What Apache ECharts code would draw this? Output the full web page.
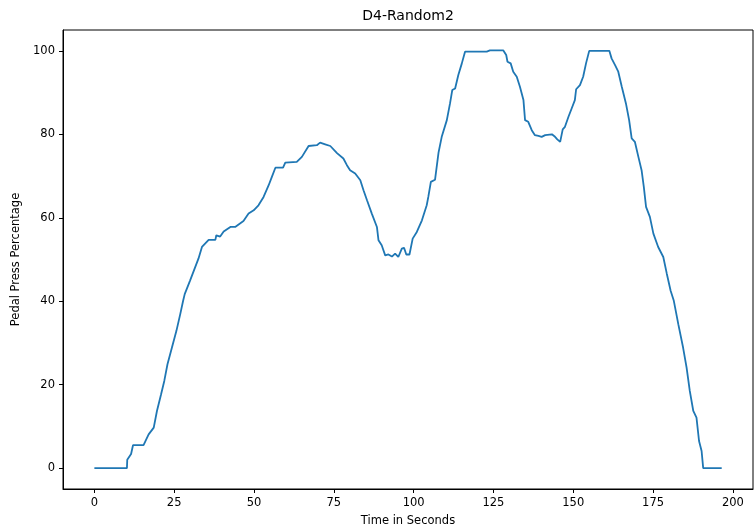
<!DOCTYPE html>
<html>
<head>
<meta charset="utf-8">
<script src="https://cdn.jsdelivr.net/npm/echarts@6/dist/echarts.min.js"></script>
<style>
html,body{margin:0;padding:0;background:#fff;}
#chart{width:755px;height:528px;}
</style>
</head>
<body>
<div id="chart"></div>
<script>
const titleText = 'D4-Random2';
const xLabel = 'Time in Seconds';
const yLabel = 'Pedal Press Percentage';
const xTicks = [0, 25, 50, 75, 100, 125, 150, 175, 200];
const yTicks = [0, 20, 40, 60, 80, 100];

const timeSec = [
  0, 10.2, 10.3, 11.5, 12.1, 15.4, 16.0, 17.0, 18.6, 19.6, 20.9, 21.9, 22.9, 24.3, 25.7, 26.9, 27.8, 28.3, 30.0,
  32.6, 33.7, 35.8, 37.9, 38.2, 39.4, 40.5, 42.6, 44.1, 46.7, 48.3, 49.9, 51.4, 53.0, 54.6, 55.6, 56.7, 59.1, 59.8,
  63.4, 65.0, 67.1, 69.7, 70.7, 72.3, 73.9, 76.0, 78.0, 79.1, 80.1, 81.7, 83.3, 84.3, 85.4, 86.9, 88.5, 89.0, 90.0,
  91.1, 92.1, 93.2, 94.2, 95.2, 96.3, 97.0, 97.7, 98.7, 99.7, 101.0, 102.6, 104.1, 104.6, 105.4, 106.7, 107.8, 108.8,
  110.4, 111.4, 112.1, 113.0, 114.0, 115.1, 116.1, 122.9, 123.9, 128.1, 129.0, 129.4, 130.4, 131.2, 132.3, 133.3,
  134.4, 134.9, 135.9, 137.0, 138.0, 139.1, 140.1, 141.2, 143.3, 144.3, 145.0, 145.9, 146.7, 147.4, 148.5, 149.5,
  150.5, 150.9, 152.1, 153.1, 154.0, 155.0, 161.3, 162.0, 163.1, 164.1, 165.2, 166.5, 167.5, 168.3, 169.3, 170.4,
  171.4, 172.1, 172.8, 174.0, 175.1, 176.6, 178.2, 179.3, 180.5, 181.5, 182.9, 184.4, 185.5, 186.5, 187.6, 188.6,
  189.4, 190.2, 190.7, 196.5
];
const pedalPct = [
  0, 0, 2.0, 3.4, 5.5, 5.5, 5.8, 8.1, 9.7, 13.7, 17.7, 20.9, 24.9, 28.9, 32.9, 36.9, 40.1, 41.7, 45.0,
  50.2, 53.0, 54.7, 54.7, 55.8, 55.5, 56.7, 57.8, 57.8, 59.2, 61.0, 61.8, 63.0, 65.0, 67.8, 69.8, 72.0, 72.0, 73.2,
  73.4, 74.6, 77.2, 77.4, 78.0, 77.6, 77.2, 75.5, 74.2, 72.6, 71.4, 70.6, 69.0, 66.6, 64.2, 61.0, 57.8, 54.6, 53.4,
  51.0, 51.2, 50.7, 51.4, 50.6, 52.6, 52.8, 51.2, 51.2, 55.0, 56.6, 59.4, 63.0, 65.0, 68.6, 69.1, 75.6, 79.4,
  83.4, 87.4, 90.6, 91.0, 94.2, 97.0, 99.8, 99.8, 100.1, 100.1, 99.0, 97.4, 97.0, 95.0, 93.8, 91.4,
  88.2, 83.4, 83.0, 81.0, 79.8, 79.6, 79.4, 79.8, 80.0, 79.4, 78.8, 78.2, 81.2, 81.8, 84.2, 86.2,
  88.2, 90.8, 91.8, 93.8, 97.0, 100, 100, 98.2, 96.6, 95.0, 91.4, 87.4, 83.4, 79.0, 78.2, 74.6,
  71.4, 67.4, 62.6, 60.2, 56.2, 53.0, 50.6, 46.6, 42.5, 40.1, 34.5, 28.9, 24.1, 18.5, 13.7, 12.1,
  6.5, 4.1, 0, 0
];

const seriesData = timeSec.map((t, i) => [t, pedalPct[i]]);
const font = 'DejaVu Sans';

const chart = echarts.init(document.getElementById('chart'), null, {renderer: 'canvas'});
chart.setOption({
  animation: false,
  backgroundColor: '#fff',
  title: {
    text: titleText,
    left: 408,
    textAlign: 'center',
    top: 9,
    padding: 0,
    textStyle: {fontFamily: font, fontSize: 14, fontWeight: 'normal', color: '#000'}
  },
  grid: {
    left: 63, right: 2, top: 30, bottom: 39,
    outerBoundsMode: 'none',
    containLabel: false,
    show: true, borderColor: '#000', borderWidth: 1, backgroundColor: 'transparent'
  },
  xAxis: {
    type: 'value',
    min: -9.825, max: 206.3,
    name: xLabel,
    nameLocation: 'middle',
    nameGap: 26,
    nameTextStyle: {fontFamily: font, fontSize: 11.5, color: '#000'},
    splitLine: {show: false},
    axisLine: {show: true, onZero: false, lineStyle: {color: '#000', width: 1}},
    axisTick: {show: true, inside: false, length: 4, lineStyle: {color: '#000'}, customValues: xTicks},
    axisLabel: {fontFamily: font, fontSize: 11.5, color: '#000', margin: 8, customValues: xTicks}
  },
  yAxis: {
    type: 'value',
    min: -5, max: 105,
    name: yLabel,
    nameLocation: 'middle',
    nameGap: 40,
    nameRotate: 90,
    nameTextStyle: {fontFamily: font, fontSize: 11.5, color: '#000'},
    splitLine: {show: false},
    axisLine: {show: true, onZero: false, lineStyle: {color: '#000', width: 1}},
    axisTick: {show: true, inside: false, length: 4, lineStyle: {color: '#000'}, customValues: yTicks},
    axisLabel: {fontFamily: font, fontSize: 11.5, color: '#000', margin: 8, customValues: yTicks}
  },
  series: [{
    type: 'line',
    data: seriesData,
    showSymbol: false,
    symbol: 'none',
    lineStyle: {color: '#1f77b4', width: 1.8},
    itemStyle: {color: '#1f77b4'}
  }]
});
</script>
</body>
</html>
